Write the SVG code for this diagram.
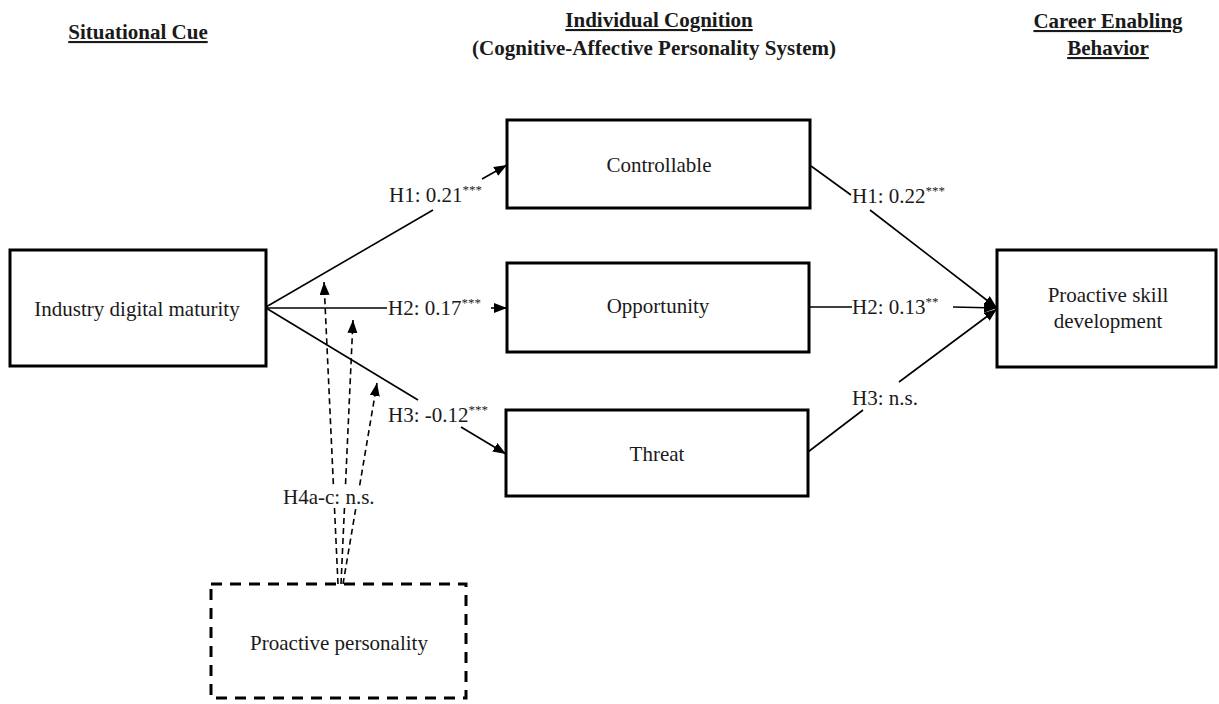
<svg xmlns="http://www.w3.org/2000/svg" width="1219" height="704" viewBox="0 0 1219 704">
<style>
text{font-family:"Liberation Serif","Times New Roman",serif;fill:#1a1a1a}
.hd{font-size:21px;font-weight:bold;text-decoration:underline;text-anchor:middle}
.hd2{font-size:21px;font-weight:bold;text-anchor:middle}
.nt{font-size:21px;text-anchor:middle}
.lb{font-size:21px}
.sup{font-size:13px}
.box{fill:#fff;stroke:#000;stroke-width:3}
.dbox{fill:#fff;stroke:#000;stroke-width:3;stroke-dasharray:11 8}
.ln{stroke:#000;stroke-width:1.6;fill:none}
.dl{stroke:#000;stroke-width:1.6;fill:none;stroke-dasharray:6 4}
</style>
<defs>
<marker id="ah" markerUnits="userSpaceOnUse" markerWidth="14" markerHeight="12" refX="13" refY="5" orient="auto">
<path d="M0,0 L13,5 L0,10 Z" fill="#000"/>
</marker>
</defs>
<rect width="1219" height="704" fill="#fff"/>
<g id="headers">
<text class="hd" x="138" y="39">Situational Cue</text>
<text class="hd" x="659" y="27">Individual Cognition</text>
<text class="hd2" x="654" y="55">(Cognitive-Affective Personality System)</text>
<text class="hd" x="1108" y="28">Career Enabling</text>
<text class="hd" x="1108" y="55">Behavior</text>
</g>
<g id="connectors">
<line class="ln" x1="266" y1="307" x2="433" y2="210"/>
<line class="ln" x1="482" y1="179" x2="507" y2="165" marker-end="url(#ah)"/>
<line class="ln" x1="266" y1="308" x2="387" y2="308"/>
<line class="ln" x1="491" y1="308" x2="507" y2="308" marker-end="url(#ah)"/>
<line class="ln" x1="266" y1="308" x2="418" y2="400"/>
<line class="ln" x1="461" y1="427" x2="506" y2="454" marker-end="url(#ah)"/>
<line class="ln" x1="811" y1="166" x2="851" y2="195"/>
<line class="ln" x1="870" y1="210" x2="997" y2="308" marker-end="url(#ah)"/>
<line class="ln" x1="809" y1="307" x2="852" y2="307"/>
<line class="ln" x1="953" y1="307" x2="997" y2="308" marker-end="url(#ah)"/>
<line class="ln" x1="808" y1="452" x2="863" y2="410"/>
<line class="ln" x1="899" y1="382" x2="997" y2="309" marker-end="url(#ah)"/>
<line class="dl" x1="338" y1="584" x2="324" y2="282" marker-end="url(#ah)"/>
<line class="dl" x1="341" y1="584" x2="353" y2="320" marker-end="url(#ah)"/>
<line class="dl" x1="343" y1="584" x2="377" y2="383" marker-end="url(#ah)"/>
<rect x="283" y="486" width="93" height="22" fill="#fff"/>
<text class="lb" x="389" y="202">H1: 0.21<tspan class="sup" dy="-8">***</tspan></text>
<text class="lb" x="388" y="315">H2: 0.17<tspan class="sup" dy="-8">***</tspan></text>
<text class="lb" x="388" y="422">H3: -0.12<tspan class="sup" dy="-8">***</tspan></text>
<text class="lb" x="852" y="203">H1: 0.22<tspan class="sup" dy="-8">***</tspan></text>
<text class="lb" x="852" y="314">H2: 0.13<tspan class="sup" dy="-8">**</tspan></text>
<text class="lb" x="852" y="405">H3: n.s.</text>
<text class="lb" x="283" y="504">H4a-c: n.s.</text>
</g>
<g id="industry">
<rect class="box" x="10" y="250" width="256" height="116"/>
<text class="nt" x="137" y="316">Industry digital maturity</text>
</g>
<g id="controllable">
<rect class="box" x="507" y="120" width="303" height="88"/>
<text class="nt" x="659" y="172">Controllable</text>
</g>
<g id="opportunity">
<rect class="box" x="507" y="263" width="302" height="89"/>
<text class="nt" x="658" y="313">Opportunity</text>
</g>
<g id="threat">
<rect class="box" x="506" y="410" width="302" height="86"/>
<text class="nt" x="657" y="461">Threat</text>
</g>
<g id="skill">
<rect class="box" x="997" y="250" width="219" height="117"/>
<text class="nt" x="1108" y="302">Proactive skill</text>
<text class="nt" x="1108" y="328">development</text>
</g>
<g id="personality">
<rect class="dbox" x="211" y="584" width="255" height="114"/>
<text class="nt" x="339" y="650">Proactive personality</text>
</g>
</svg>
